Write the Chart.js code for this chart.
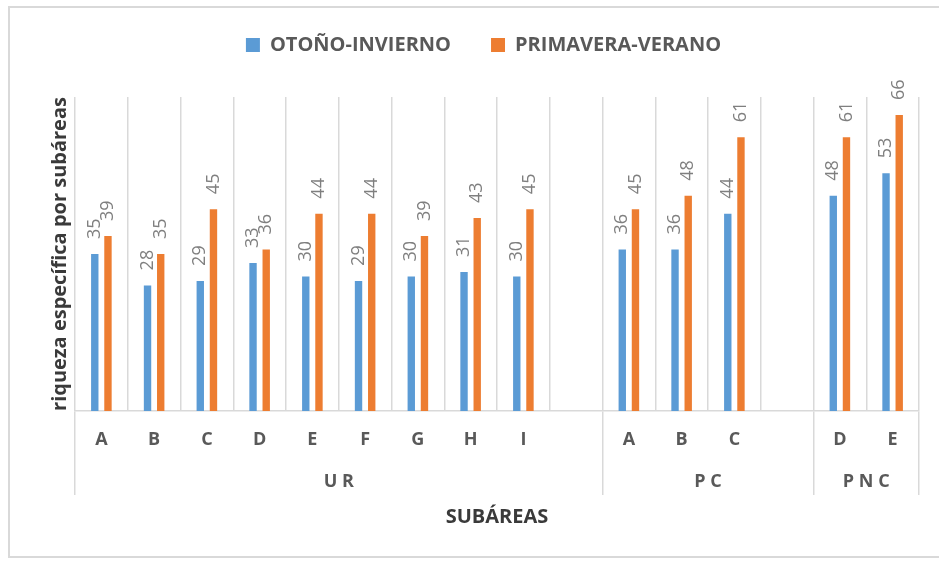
<!DOCTYPE html>
<html lang="es">
<head>
<meta charset="utf-8">
<title>Riqueza específica por subáreas</title>
<script src="https://cdn.jsdelivr.net/npm/chart.js@4/dist/chart.umd.min.js"></script>
<style>
  html, body { margin: 0; padding: 0; background: #fff; overflow: hidden; }
  #wrap { position: relative; width: 939px; height: 561px; }
  #frame { position: absolute; left: 8px; top: 6px; width: 960px; height: 552px;
           border: 2px solid #d9d9d9; box-sizing: border-box; }
  #chart { position: absolute; left: 0; top: 0; }
</style>
</head>
<body>
<div id="wrap">
  <div id="frame"></div>
  <canvas id="chart" width="939" height="561"></canvas>
</div>
<script>
// subáreas, grouped by zone (empty slots separate the zones)
const subareas = ["A","B","C","D","E","F","G","H","I","","A","B","C","","D","E"];
const otonoInvierno   = [35,28,29,33,30,29,30,31,30,null,36,36,44,null,48,53];
const primaveraVerano = [39,35,45,36,44,44,39,43,45,null,45,48,61,null,61,66];
const zonas = ["U R","P C","P N C"];
const zonaCentros = [4.5, 11.5, 14.5];   // in slot units
const zonaLimites = [0, 10, 14, 16];     // gridline indices that run down to the zone row

const GRID = "#d9d9d9";
const FONT = "'Open Sans', 'DejaVu Sans', sans-serif";

// rotated value labels above each bar
const valueLabels = {
  id: "valueLabels",
  afterDatasetsDraw(chart){
    const ctx = chart.ctx;
    ctx.save();
    ctx.font = "18px " + FONT;
    ctx.fillStyle = "#7f7f7f";
    ctx.textAlign = "left";
    ctx.textBaseline = "middle";
    chart.data.datasets.forEach((ds, i) => {
      chart.getDatasetMeta(i).data.forEach((bar, j) => {
        const v = ds.data[j];
        if (v == null) return;
        ctx.save();
        ctx.translate(bar.x, bar.y - 15);
        ctx.rotate(-Math.PI / 2);
        ctx.fillText(String(v), 0, 0);
        ctx.restore();
      });
    });
    ctx.restore();
  }
};

// leave more room between the legend and the plot
const legendGap = {
  id: "legendGap",
  afterInit(chart){
    const lg = chart.legend;
    const fit = lg.fit;
    lg.fit = function(){ fit.call(this); this.height += 32; };
  }
};

new Chart(document.getElementById("chart"), {
  type: "bar",
  data: {
    labels: subareas,
    datasets: [
      { label: "OTOÑO-INVIERNO", data: otonoInvierno, backgroundColor: "#5b9bd5",
        xAxisID: "x", categoryPercentage: 0.5, barPercentage: 0.56 },
      { label: "PRIMAVERA-VERANO", data: primaveraVerano, backgroundColor: "#ed7d31",
        xAxisID: "x", categoryPercentage: 0.5, barPercentage: 0.56 }
    ]
  },
  options: {
    responsive: false,
    animation: false,
    layout: { padding: { left: 48, right: 20, top: -5, bottom: 0 } },
    plugins: {
      legend: {
        position: "top",
        labels: {
          boxWidth: 14, boxHeight: 14, padding: 40,
          color: "#595959",
          font: { family: FONT, size: 20, weight: "bold" }
        }
      },
      tooltip: { enabled: false }
    },
    scales: {
      x: {
        type: "category",
        weight: 0,
        offset: true,
        grid: {
          offset: true, color: GRID, lineWidth: 1.5, tickLength: 84, tickWidth: 1.5,
          tickColor: c => (c.index === undefined || zonaLimites.includes(c.index)) ? GRID : "rgba(0,0,0,0)"
        },
        border: { display: true, color: GRID, width: 1.5 },
        ticks: {
          padding: -66, autoSkip: false, maxRotation: 0,
          color: "#595959", font: { family: FONT, size: 18, weight: "bold" }
        },
        afterFit: s => { s.height = 44; }
      },
      x2: {
        type: "linear",
        position: "bottom",
        weight: 1,
        offset: false,
        min: -0.5, max: 15.5,
        grid: { display: false, drawTicks: false, offset: false },
        border: { display: false },
        afterBuildTicks: s => { s.ticks = zonaCentros.map(v => ({ value: v })); },
        ticks: {
          padding: 16, autoSkip: false, maxRotation: 0,
          color: "#595959", font: { family: FONT, size: 18, weight: "bold" },
          callback: (v, i) => zonas[i]
        },
        title: {
          display: true, text: "SUBÁREAS", color: "#3a3a3a",
          font: { family: FONT, size: 20, weight: "bold" },
          padding: { top: 0, bottom: 32 }
        },
        afterFit: s => { s.height = 106; }
      },
      y: {
        min: 0, max: 70,
        grid: { display: false, drawTicks: false },
        border: { display: false },
        ticks: { display: false },
        title: {
          display: true, text: "riqueza específica por subáreas", color: "#3a3a3a",
          font: { family: FONT, size: 20, weight: "bold" },
          padding: { top: 0, bottom: 0 }
        },
        afterFit: s => { s.width = 27; }
      }
    }
  },
  plugins: [valueLabels, legendGap]
});
</script>
</body>
</html>
